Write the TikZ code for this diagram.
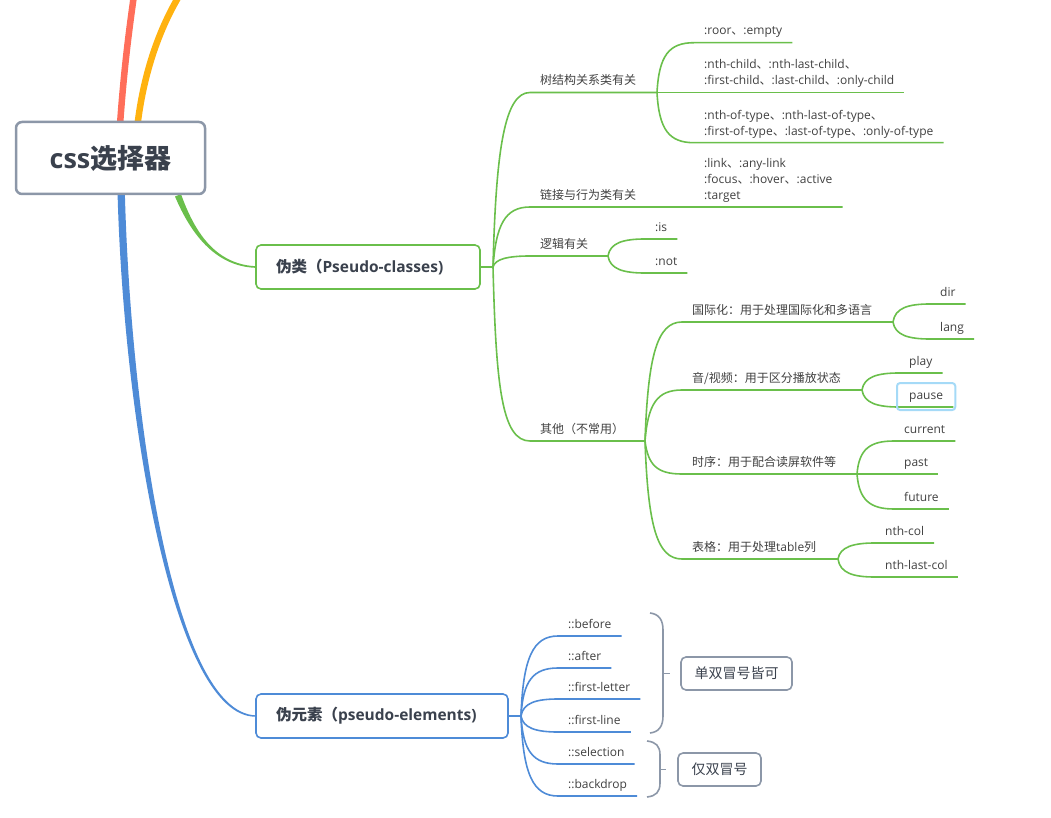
\documentclass[tikz,border=0pt]{standalone}
\usepackage{fontspec}
\setmainfont{Open Sans}
\newfontfamily\zhfont{Noto Sans CJK SC}
\usetikzlibrary{calc,backgrounds}
\definecolor{gline}{HTML}{6ABF4B}
\definecolor{bline}{HTML}{4E8BD7}
\definecolor{rline}{HTML}{FF6E5A}
\definecolor{oline}{HTML}{FFB20F}
\definecolor{gborder}{HTML}{8C97A8}
\definecolor{txt}{HTML}{404040}
\definecolor{ttxt}{HTML}{3A414D}
\definecolor{hl}{HTML}{A5DAF7}
\tikzset{
  topic/.style={anchor=south west, inner xsep=10pt, inner ysep=4.5pt, font=\fontsize{12}{16}\selectfont, text=txt},
  one/.style={topic, text depth=3pt},
  multi/.style={topic, align=left},
  root/.style={draw=gborder, line width=2.5pt, rounded corners=6pt, fill=white, minimum width=189pt, minimum height=72pt, font=\bfseries\fontsize{27}{30}\selectfont, text=ttxt},
  main/.style={line width=1.6pt, rounded corners=5pt, fill=white, minimum height=44pt, inner xsep=20pt, align=left, font=\bfseries\fontsize{15.5}{18}\selectfont, text=ttxt},
  note/.style={draw=gborder, line width=1.6pt, rounded corners=5pt, minimum height=33pt, font=\fontsize{14}{16}\selectfont, text=ttxt},
  gl/.style={draw=gline, line width=1.6pt},
  bl/.style={draw=bline, line width=1.6pt},
  brace/.style={draw=gborder, line width=1.6pt},
}
\begin{document}
\begin{tikzpicture}[x=1pt,y=-1pt]
  \useasboundingbox (0,0) rectangle (1051,818);

  % main topics
  \node[root] (root) at (110.5,158) {css{\zhfont 选择器}};
  \node[main, draw=gline, text width=184pt] (pc) at (368,267) {{\zhfont 伪类（}Pseudo-classes)};
  \node[main, draw=bline, text width=212pt] (pe) at (382,716) {{\zhfont 伪元素（}pseudo-elements)};
  \coordinate (redend) at (135,-12);
  \coordinate (orangeend) at (184,-12);

  % pseudo-classes
  \coordinate (pcj) at (493,267);
  \node[one] (tree) at (530,92.5) {\zhfont 树结构关系类有关};
  \node[one] (link) at (530,207) {\zhfont 链接与行为类有关};
  \node[one] (logic) at (530,256) {\zhfont 逻辑有关};
  \node[one] (other) at (530,441) {\zhfont 其他（不常用）};

  \coordinate (tj) at (657,92.5);
  \node[one] (roor) at (694,42.7) {:roor{\zhfont 、}:empty};
  \node[multi] (child) at (694,92.5) {:nth-child{\zhfont 、}:nth-last-child{\zhfont 、}\\:first-child{\zhfont 、}:last-child{\zhfont 、}:only-child};
  \node[multi] (oftype) at (694,142.7) {:nth-of-type{\zhfont 、}:nth-last-of-type{\zhfont 、}\\:first-of-type{\zhfont 、}:last-of-type{\zhfont 、}:only-of-type};
  \coordinate (lj) at (658,207);
  \node[multi] (linkx) at (694,207) {:link{\zhfont 、}:any-link\\:focus{\zhfont 、}:hover{\zhfont 、}:active\\:target};
  \coordinate (gj) at (608,256);
  \node[one] (is) at (645,239) {:is};
  \node[one] (not) at (645,273) {:not};

  \coordinate (oj) at (645,441);
  \node[one] (intl) at (682,322) {\zhfont 国际化：用于处理国际化和多语言};
  \node[one] (media) at (682,390) {\zhfont 音/视频：用于区分播放状态};
  \node[one] (timing) at (682,474) {\zhfont 时序：用于配合读屏软件等};
  \node[one] (table) at (682,559) {{\zhfont 表格：用于处理}table{\zhfont 列}};

  \coordinate (ij) at (893,322);
  \node[one] (dir) at (930,304) {dir};
  \node[one] (lang) at (930,339) {lang};
  \coordinate (mj) at (862,390);
  \node[one] (play) at (899,373) {play};
  \node[one] (pause) at (899,407) {pause};
  \coordinate (sj) at (857,474);
  \node[one] (current) at (894,441) {current};
  \node[one] (past) at (894,474) {past};
  \node[one] (future) at (894,509) {future};
  \coordinate (bj) at (838,559);
  \node[one] (nthcol) at (875,543) {nth-col};
  \node[one] (lastcol) at (875,577) {nth-last-col};

  \draw[hl, line width=2pt, rounded corners=3pt] ([shift={(-2,3)}]pause.south west) rectangle ([shift={(2,-5)}]pause.north east);

  % pseudo-elements
  \coordinate (ej) at (521,716);
  \node[one] (before) at (558,636) {::before};
  \node[one] (after) at (558,668) {::after};
  \node[one] (fletter) at (558,699) {::first-letter};
  \node[one] (fline) at (558,732) {::first-line};
  \node[one] (select) at (558,764) {::selection};
  \node[one] (backdrop) at (558,796) {::backdrop};
  \node[note, minimum width=111pt] (both) at (736.5,673.5) {\zhfont 单双冒号皆可};
  \node[note, minimum width=83pt] (dbl) at (719.5,769.5) {\zhfont 仅双冒号};

  \draw[brace] (650,613) .. controls +(9,1) and +(0,-10) .. (663,630) -- (663,716) .. controls +(0,10) and +(9,-1) .. (650,733);
  \draw[brace] ([xshift=-18pt]both.west) -- ([xshift=-10pt]both.west);
  \draw[brace] (647,741) .. controls +(9,1) and +(0,-9) .. (660,755) -- (660,783) .. controls +(0,9) and +(9,-1) .. (647,797);
  \draw[brace] ([xshift=-18pt]dbl.west) -- ([xshift=-11pt]dbl.west);

  \begin{pgfonlayer}{background}
    % branches of the root
    \draw[rline, line width=6.5pt] ($(root.north)+(9.5,4)$) .. controls +(4,-56) and +(-6,42) .. (redend);
    \draw[oline, line width=6.5pt] ($(root.north)+(27,4)$) .. controls +(5.5,-46) and +(-27,42) .. (orangeend);
    \fill[gline] ($(root.south)+(70.5,-1.2)$) .. controls +(13,36.4) and +(-41,-2.4) .. ($(pc.west)+(0,-0.8)$)
      -- ($(pc.west)+(0,0.8)$) .. controls +(-41,-1.6) and +(15,35.6) .. ($(root.south)+(64.5,1.2)$) -- cycle;
    \fill[bline] ($(root.south)+(14.3,-4)$) .. controls +(6,230) and +(-80.5,-3.5) .. ($(pe.west)+(0,-0.7)$)
      -- ($(pe.west)+(0,0.7)$) .. controls +(-81.5,-0.5) and +(6,230) .. ($(root.south)+(7,-4)$) -- cycle;

    % pseudo-classes
    \draw[gl] (pc.east) -- (pcj);
    \draw[gl] (pcj) .. controls +(3,-120) and +(-25,0) .. (tree.south west) -- (tj);
    \draw[gl] (pcj) .. controls +(3,-42) and +(-25,0) .. (link.south west) -- (lj) -- (linkx.south west) -- (linkx.south east);
    \draw[gl] (pcj) .. controls +(2,-8) and +(-22,0) .. (logic.south west) -- (gj);
    \draw[gl] (pcj) .. controls +(3,120) and +(-28,0) .. (other.south west) -- (oj);

    \draw[gl] (tj) .. controls +(2,-37) and +(-25,0) .. (roor.south west) -- (roor.south east);
    \draw[gl] (tj) -- (child.south west) -- (child.south east);
    \draw[gl] (tj) .. controls +(2,37) and +(-25,0) .. (oftype.south west) -- (oftype.south east);
    \draw[gl] (gj) .. controls +(2,-13) and +(-22,0) .. (is.south west) -- (is.south east);
    \draw[gl] (gj) .. controls +(2,13) and +(-22,0) .. (not.south west) -- (not.south east);

    \draw[gl] (oj) .. controls +(3,-85) and +(-25,0) .. (intl.south west) -- (ij);
    \draw[gl] (oj) .. controls +(3,-37) and +(-25,0) .. (media.south west) -- (mj);
    \draw[gl] (oj) .. controls +(3,24) and +(-25,0) .. (timing.south west) -- (sj);
    \draw[gl] (oj) .. controls +(3,85) and +(-25,0) .. (table.south west) -- (bj);

    \draw[gl] (ij) .. controls +(2,-14) and +(-22,0) .. (dir.south west) -- (dir.south east);
    \draw[gl] (ij) .. controls +(2,13) and +(-22,0) .. (lang.south west) -- (lang.south east);
    \draw[gl] (mj) .. controls +(2,-13) and +(-22,0) .. (play.south west) -- (play.south east);
    \draw[gl] (mj) .. controls +(2,13) and +(-22,0) .. (pause.south west) -- (pause.south east);
    \draw[gl] (sj) .. controls +(2,-25) and +(-24,0) .. (current.south west) -- (current.south east);
    \draw[gl] (sj) -- (past.south west) -- (past.south east);
    \draw[gl] (sj) .. controls +(2,26) and +(-24,0) .. (future.south west) -- (future.south east);
    \draw[gl] (bj) .. controls +(2,-12) and +(-22,0) .. (nthcol.south west) -- (nthcol.south east);
    \draw[gl] (bj) .. controls +(2,14) and +(-22,0) .. (lastcol.south west) -- (lastcol.south east);

    % pseudo-elements
    \draw[bl] (pe.east) -- (ej);
    \draw[bl] (ej) .. controls +(2,-58) and +(-25,0) .. (before.south west) -- (before.south east);
    \draw[bl] (ej) .. controls +(2,-35) and +(-25,0) .. (after.south west) -- (after.south east);
    \draw[bl] (ej) .. controls +(2,-13) and +(-22,0) .. (fletter.south west) -- (fletter.south east);
    \draw[bl] (ej) .. controls +(2,12) and +(-22,0) .. (fline.south west) -- (fline.south east);
    \draw[bl] (ej) .. controls +(2,35) and +(-25,0) .. (select.south west) -- (select.south east);
    \draw[bl] (ej) .. controls +(2,58) and +(-25,0) .. (backdrop.south west) -- (backdrop.south east);
  \end{pgfonlayer}
\end{tikzpicture}
\end{document}
